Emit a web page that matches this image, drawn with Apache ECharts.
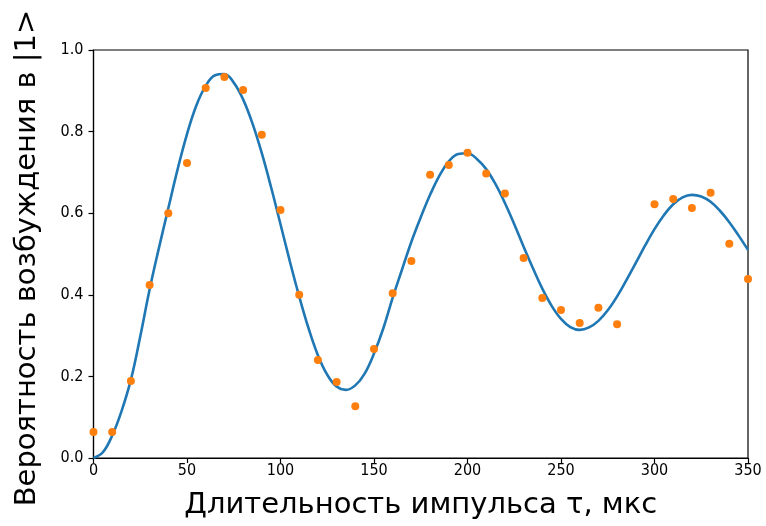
<!DOCTYPE html>
<html>
<head>
<meta charset="utf-8">
<script src="https://cdn.jsdelivr.net/npm/echarts@6/dist/echarts.min.js"></script>
<style>
html,body{margin:0;padding:0;background:#fff;}
#chart{width:766px;height:526px;}
</style>
</head>
<body>
<div id="chart"></div>
<script>
// Measured points (orange)
const measT = [0,10,20,30,40,50,60,70,80,90,100,110,120,130,140,150,160,170,180,190,200,210,220,230,240,250,260,270,280,300,310,320,330,340,350];
const measP = [0.064,0.064,0.189,0.424,0.600,0.723,0.907,0.934,0.902,0.792,0.608,0.400,0.240,0.186,0.127,0.267,0.404,0.483,0.694,0.718,0.748,0.697,0.648,0.490,0.392,0.363,0.331,0.368,0.328,0.622,0.635,0.613,0.650,0.525,0.439];

// Fitted curve (blue)
const fitT = [0,5,10,15,20,25,30,35,40,45,50,55,60,65,70,75,80,85,90,95,100,105,110,115,120,125,130,135,140,145,150,155,160,165,170,175,180,185,190,195,200,205,210,215,220,225,230,235,240,245,250,255,260,265,270,275,280,285,290,295,300,305,310,315,320,325,330,335,340,345,350];
const fitP = [0,0.014,0.055,0.115,0.192,0.298,0.413,0.515,0.612,0.708,0.794,0.864,0.912,0.938,0.941,0.92,0.879,0.82,0.747,0.663,0.573,0.482,0.396,0.318,0.252,0.204,0.175,0.167,0.178,0.207,0.256,0.318,0.393,0.462,0.53,0.59,0.645,0.692,0.727,0.745,0.747,0.733,0.708,0.671,0.625,0.573,0.518,0.465,0.415,0.373,0.341,0.321,0.314,0.32,0.336,0.362,0.396,0.436,0.478,0.521,0.561,0.595,0.622,0.639,0.645,0.641,0.628,0.606,0.578,0.545,0.51];

const xTicks = [0,50,100,150,200,250,300,350];
const yTicks = [0.0,0.2,0.4,0.6,0.8,1.0];

const xTitle = 'Длительность импульса τ, мкс';
const yTitle = 'Вероятность возбуждения в |1>';

const chart = echarts.init(document.getElementById('chart'), null, {renderer:'canvas'});
const fitData = fitT.map((t,i)=>[t, fitP[i]]);
const measData = measT.map((t,i)=>[t, measP[i]]);

chart.setOption({
  animation:false,
  backgroundColor:'#fff',
  grid:{left:93.5, right:18, top:50, bottom:68, show:true, borderColor:'#000', borderWidth:1.2, backgroundColor:'transparent'},
  xAxis:{
    type:'value', min:0, max:350, interval:50,
    name:xTitle, nameLocation:'middle', nameGap:33,
    nameTextStyle:{fontFamily:'DejaVu Sans', fontSize:29, color:'#000'},
    axisLine:{show:true, onZero:false, lineStyle:{color:'#000', width:1.2}},
    axisTick:{show:true, length:5, inside:false, lineStyle:{color:'#000', width:1.2}},
    axisLabel:{fontFamily:'DejaVu Sans Condensed', fontSize:16, color:'#000', margin:5,
      formatter:v=> xTicks.includes(v) ? String(v) : ''},
    splitLine:{show:false}
  },
  yAxis:{
    type:'value', min:0, max:1.0, interval:0.2,
    name:yTitle, nameLocation:'middle', nameGap:52,
    nameTextStyle:{fontFamily:'DejaVu Sans', fontSize:29, color:'#000', padding:[0,8,0,0]},
    axisLine:{show:true, onZero:false, lineStyle:{color:'#000', width:1.2}},
    axisTick:{show:true, length:5, inside:false, lineStyle:{color:'#000', width:1.2}},
    axisLabel:{fontFamily:'DejaVu Sans Condensed', fontSize:16, color:'#000', margin:10,
      formatter:v=>{ const t = yTicks.find(k=>Math.abs(k-v)<1e-9); return t===undefined ? '' : t.toFixed(1); }},
    splitLine:{show:false}
  },
  series:[
    {type:'line', data:fitData, smooth:0.4, showSymbol:false, symbol:'none',
     lineStyle:{color:'#1f77b4', width:2.6}, z:2, clip:true},
    {type:'scatter', data:measData, symbol:'circle', symbolSize:8,
     itemStyle:{color:'#ff7f0e', opacity:1}, z:3, clip:false}
  ]
});
</script>
</body>
</html>
